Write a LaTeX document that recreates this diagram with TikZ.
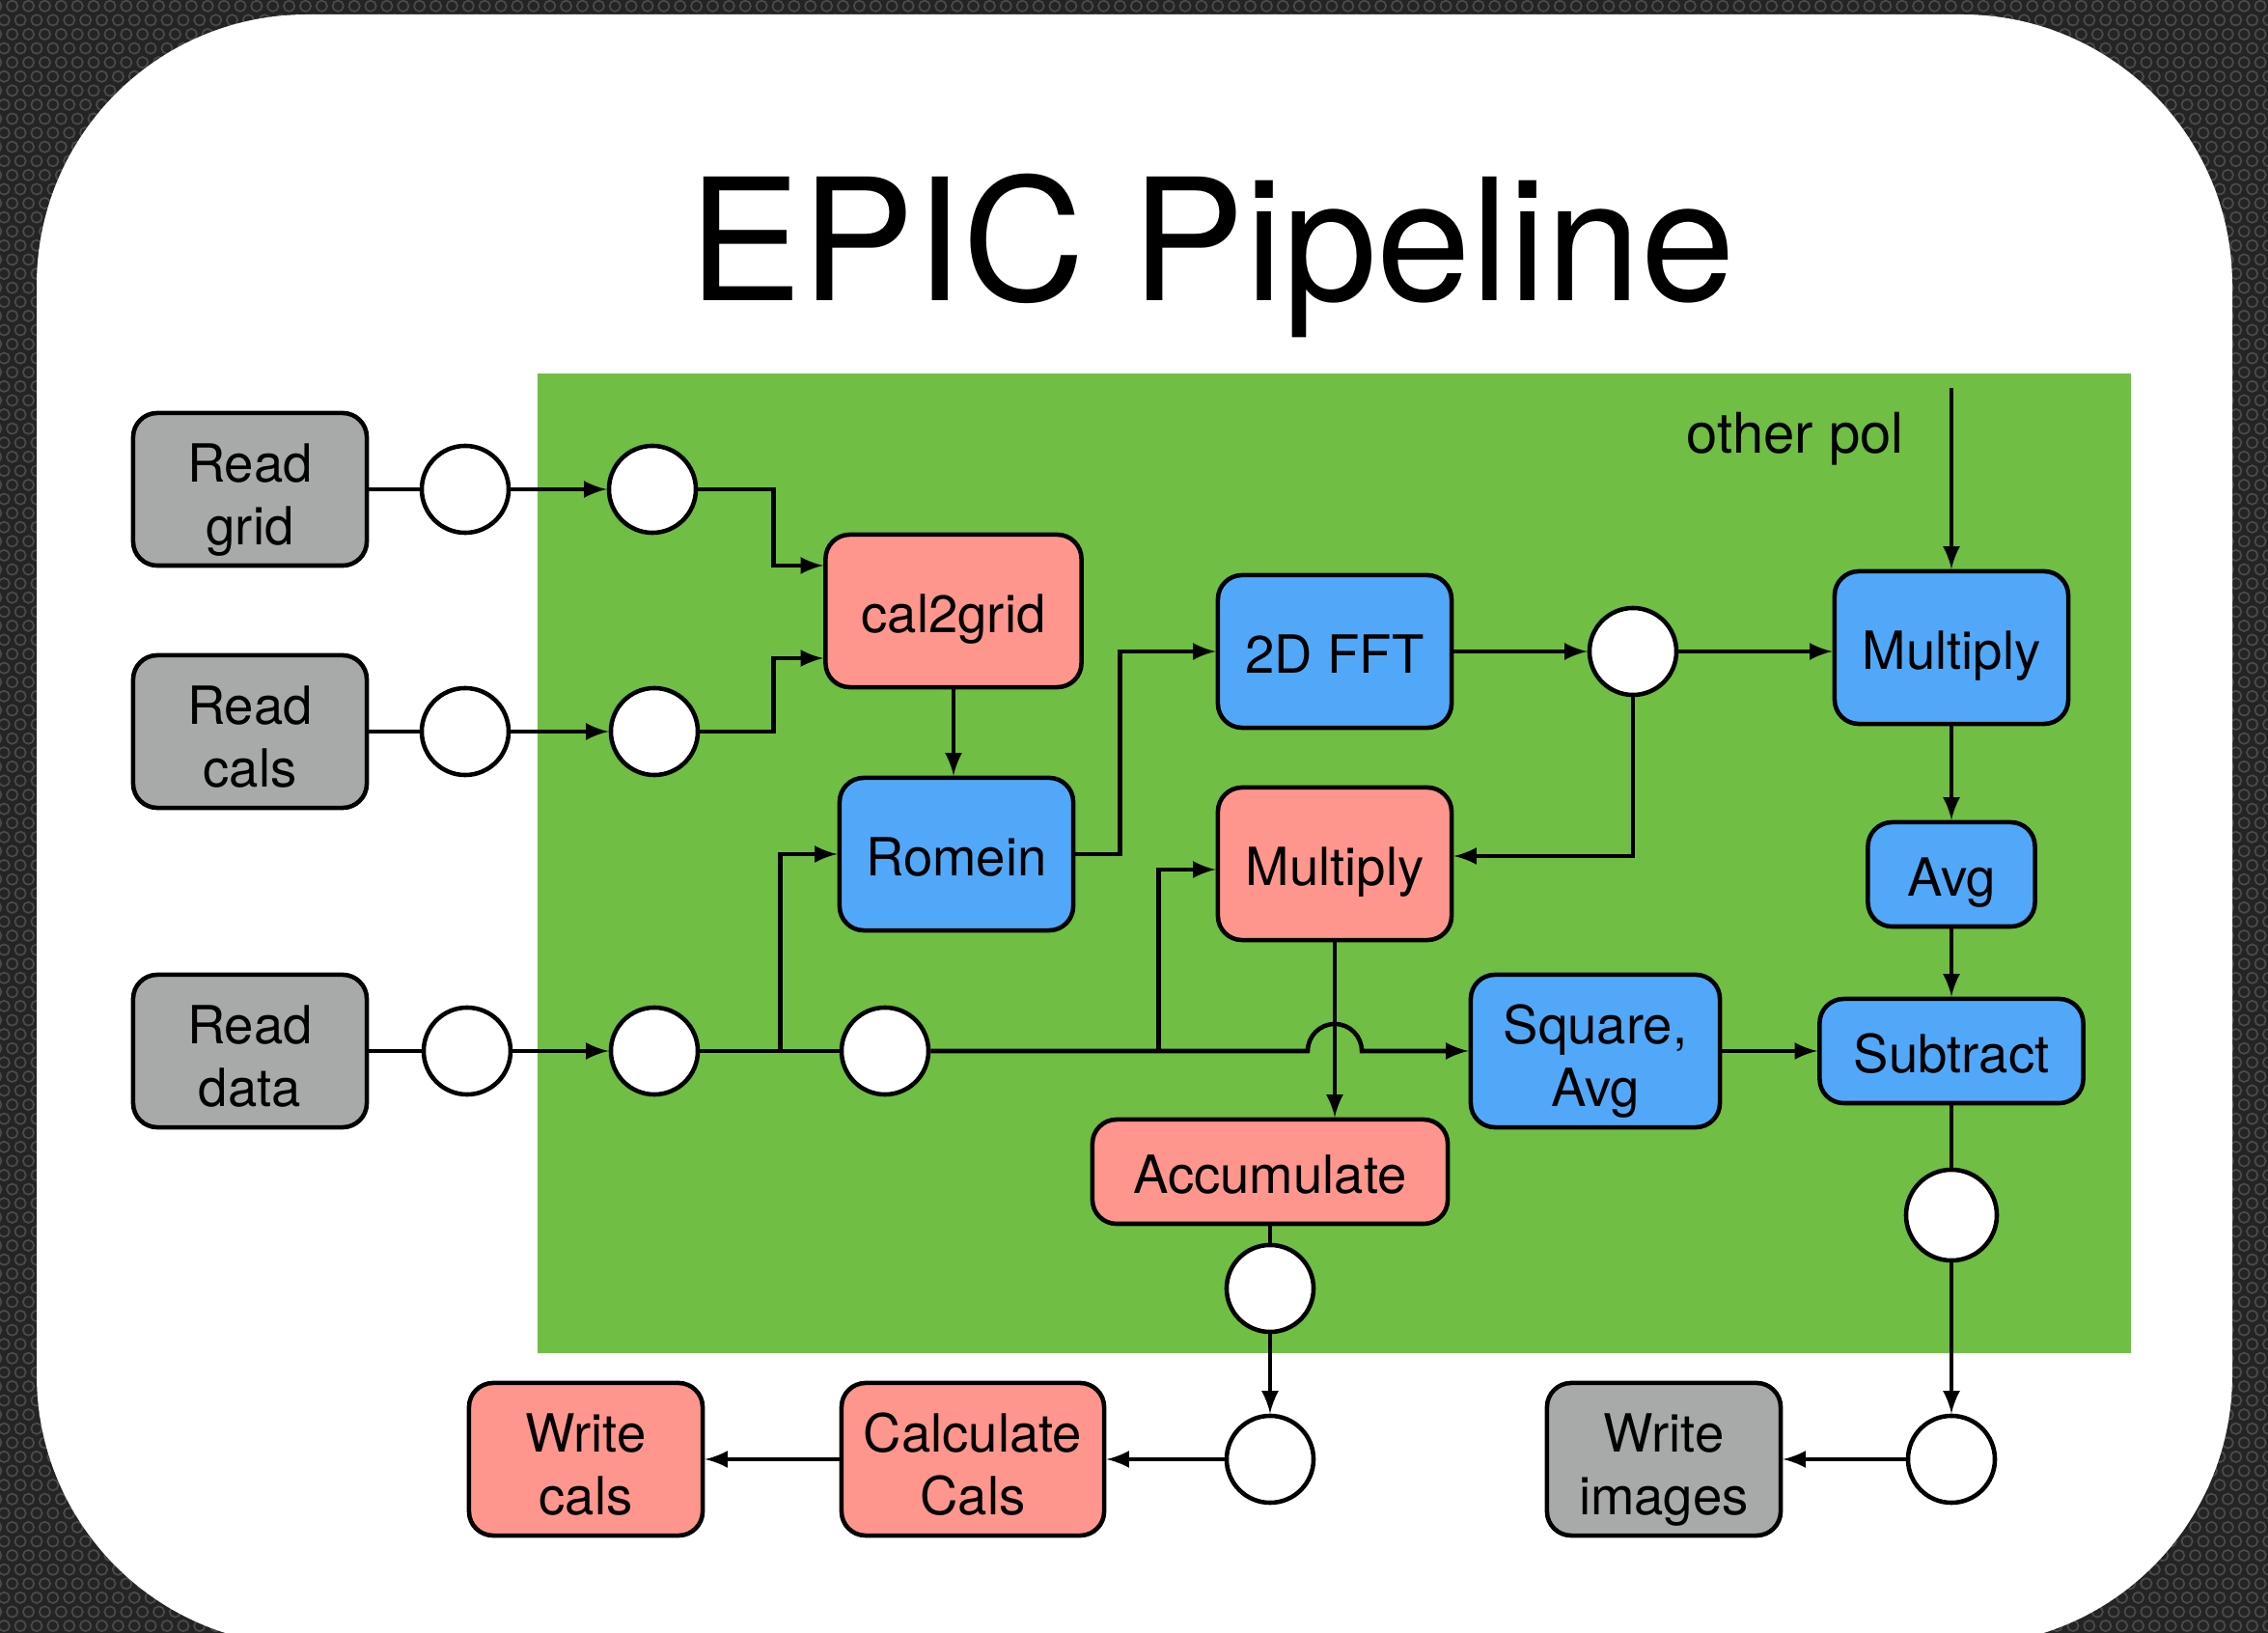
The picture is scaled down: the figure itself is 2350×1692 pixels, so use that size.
\documentclass[tikz,border=0pt]{standalone}
\usepackage{fontspec}
\setmainfont{TeX Gyre Heros}
\usepackage{xcolor}
\usepackage{tikz}
\usetikzlibrary{arrows}
\usetikzlibrary{patterns}
\usetikzlibrary{calc}

\definecolor{slate}{HTML}{242424}
\definecolor{rimgray}{HTML}{4A4A4A}
\definecolor{stagegreen}{HTML}{70BE44}
\definecolor{salmon}{HTML}{FF968D}
\definecolor{skyblue}{HTML}{52A8F8}
\definecolor{iogray}{HTML}{A7AAA9}

% two lines of box text, set a little low as in the slide
\newcommand{\twolines}[2]{\rule{0pt}{0.64cm}#1\\#2\rule[-0.14cm]{0pt}{0.14cm}}

% perforated backdrop
\pgfdeclarepatternformonly{holes}{\pgfqpoint{-1pt}{-1pt}}{\pgfqpoint{5.8pt}{9.3pt}}{\pgfqpoint{4.8pt}{8.3pt}}{%
  \pgfsetlinewidth{0.5pt}%
  \pgfpathcircle{\pgfqpoint{1.2pt}{2.1pt}}{1.6pt}%
  \pgfpathcircle{\pgfqpoint{3.6pt}{6.25pt}}{1.6pt}%
  \pgfusepath{stroke}%
}

\begin{document}
\begin{tikzpicture}[x=0.01cm,y=-0.01cm,line width=1.3pt,
  box/.style={draw, line width=1.3pt, rounded corners=0.25cm, align=center, inner sep=2pt,
    minimum width=2.42cm, minimum height=1.58cm, font=\fontsize{15.5}{18.3}\selectfont,
    execute at begin node={\rule{0pt}{0.58cm}},
    execute at end node={\rule[-0.14cm]{0pt}{0.14cm}}},
  graybox/.style={box, fill=iogray},
  redbox/.style={box, fill=salmon},
  bluebox/.style={box, fill=skyblue},
  ring/.style={circle, draw, fill=white, line width=1.3pt, minimum size=0.9cm, inner sep=0pt}]
\useasboundingbox (0,0) rectangle (2350,1692);
\clip (0,0) rectangle (2350,1692);
\fill[slate] (0,0) rectangle (2350,1692);
\fill[pattern=holes, pattern color=rimgray] (0,0) rectangle (2350,1692);
\fill[white, rounded corners=2.8cm] (38,15) rectangle (2313,1705);
\fill[stagegreen] (557,387) rectangle (2208,1402);

\node[anchor=base, font=\fontsize{50}{60}\selectfont] (title) at (1256,312) {EPIC Pipeline};
\node[anchor=base, font=\fontsize{16.5}{20}\selectfont] (otherpol) at (1860,470) {other pol};
\coordinate (pol) at (2022,402);

% inputs
\node[graybox] (rgrid) at (259,507) {\twolines{Read}{grid}};
\node[graybox] (rcals) at (259,758) {\twolines{Read}{cals}};
\node[graybox] (rdata) at (259,1089) {\twolines{Read}{data}};
\node[ring] (c1g) at (482,507) {};
\node[ring] (c2g) at (676,507) {};
\node[ring] (c1c) at (482,758) {};
\node[ring] (c2c) at (678,758) {};
\node[ring] (c1d) at (484,1089) {};
\node[ring] (c2d) at (678,1089) {};
\node[ring] (c3d) at (917,1089) {};

% stages
\node[redbox, minimum width=2.65cm] (cal) at (988,633) {cal2grid};
\node[bluebox] (romein) at (991,885) {Romein};
\node[bluebox] (fft) at (1383,675) {2D FFT};
\node[ring] (cfft) at (1692,675) {};
\node[bluebox] (mulb) at (2022,671) {Multiply};
\node[bluebox, minimum width=1.73cm, minimum height=1.08cm] (avg) at (2022,906) {Avg};
\node[bluebox, minimum width=2.73cm, minimum height=1.08cm] (sub) at (2022,1089) {Subtract};
\node[redbox] (mulr) at (1383,895) {Multiply};
\node[bluebox, minimum width=2.58cm] (sqavg) at (1653,1089) {\twolines{Square,}{Avg}};
\node[redbox, minimum width=3.68cm, minimum height=1.08cm] (acc) at (1316,1214) {Accumulate};
\node[ring] (cacc) at (1316,1335) {};
\node[ring, minimum size=0.94cm] (csub) at (2022,1259) {};

% outputs
\node[ring] (cout) at (1316,1512) {};
\node[redbox, minimum width=2.72cm] (calccals) at (1008,1512) {\twolines{Calculate}{Cals}};
\node[redbox] (wcals) at (607,1512) {\twolines{Write}{cals}};
\node[ring] (cimg) at (2022,1512) {};
\node[graybox] (wimg) at (1724,1512) {\twolines{Write}{images}};

\draw (rgrid) -- (c1g);
\draw[-latex] (c1g) -- (c2g);
\draw (rcals) -- (c1c);
\draw[-latex] (c1c) -- (c2c);
\draw (rdata) -- (c1d);
\draw[-latex] (c1d) -- (c2d);
\draw[-latex] (c2g.east) -- ++(78,0) |- ([yshift=0.47cm]cal.west);
\draw[-latex] (c2c.east) -- ++(76,0) |- ([yshift=-0.49cm]cal.west);
\draw[-latex] (cal.south) -- (cal.south |- romein.north);
\draw[-latex] (c2d.east) -- ++(83,0) |- (romein.west);
\draw (c2d) -- (c3d);
\draw[-latex] (romein.east) -- ++(46,0) |- (fft.west);
\draw[-latex] (fft) -- (cfft);
\draw[-latex] (cfft.east) -- (cfft.east -| mulb.west);
\draw[-latex] (pol) -- (pol |- mulb.north);
\draw[-latex] (mulb) -- (avg);
\draw[-latex] (avg) -- (sub);
\draw[-latex] (cfft.south) |- ([yshift=0.08cm]mulr.east);
\coordinate (split) at ($(c3d.east)+(236,0)$);
\draw[-latex] (split) |- ([yshift=-0.06cm]mulr.west);
\draw[-latex] (c3d.east) -- ($(c3d.east -| mulr.south)+(-28,0)$)
  arc[start angle=180, end angle=0, radius=0.28cm] -- (sqavg.west);
\draw[-latex] (mulr.south) -- (mulr.south |- acc.north);
\draw[-latex] (sqavg) -- (sub);
\draw (acc.south -| cacc) -- (cacc);
\draw[-latex] (cacc) -- (cout);
\draw[-latex] (cout) -- (calccals);
\draw[-latex] (calccals) -- (wcals);
\draw (sub) -- (csub);
\draw[-latex] (csub) -- (cimg);
\draw[-latex] (cimg) -- (wimg);
\end{tikzpicture}
\end{document}
